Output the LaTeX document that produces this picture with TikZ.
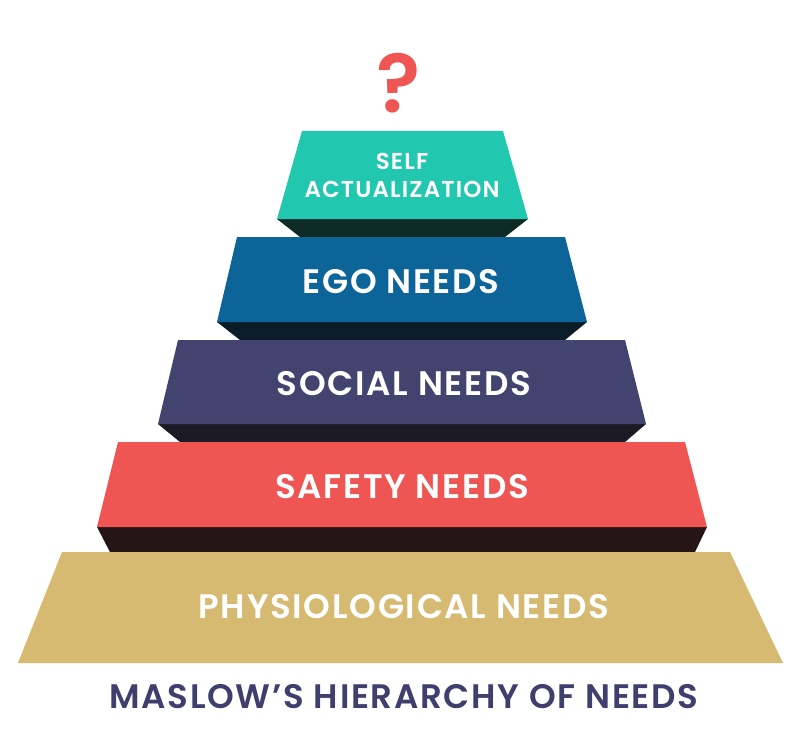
\documentclass[tikz,border=0pt]{standalone}
\usepackage{fontspec}
\setmainfont{Poppins}[BoldFont=* SemiBold,LetterSpace=5]
\definecolor{teal}{HTML}{22C7AF}
\definecolor{egob}{HTML}{0D6499}
\definecolor{socp}{HTML}{42446F}
\definecolor{safr}{HTML}{EF5552}
\definecolor{phyg}{HTML}{D6BA72}
\definecolor{dtea}{HTML}{0E2A25}
\definecolor{dego}{HTML}{0A1C28}
\definecolor{dsoc}{HTML}{1C1A24}
\definecolor{dsaf}{HTML}{251516}
\definecolor{ttl}{HTML}{3F3F6E}
\tikzset{lbl/.style={text=white,align=center,inner sep=0pt}}
\begin{document}
\begin{tikzpicture}[x=1pt,y=-1pt]
\useasboundingbox (0,0) rectangle (800,733);
% dark bands
\fill[dtea] (277,219) -- (528,219) -- (505,237) -- (300,237) -- cycle;
\fill[dego] (217,322) -- (587,322) -- (565,340) -- (240,340) -- cycle;
\fill[dsoc] (158,424) -- (646,424) -- (625,442) -- (180,442) -- cycle;
\fill[dsaf] (97,527) -- (707,527) -- (695,552) -- (110,552) -- cycle;
% layers
\fill[teal] (302,131) -- (503,131) -- (528,219) -- (277,219) -- cycle;
\fill[egob] (237,237) -- (565,237) -- (587,322) -- (217,322) -- cycle;
\fill[socp] (178,340) -- (625,340) -- (646,424) -- (158,424) -- cycle;
\fill[safr] (118,442) -- (685,442) -- (707,527) -- (97,527) -- cycle;
\fill[phyg] (62,552) -- (730,552) -- (783,663) -- (18,663) -- cycle;
\node[lbl,font=\bfseries\fontsize{23}{28}\selectfont] (sa) at (402,175) {SELF\\ACTUALIZATION};
\node[lbl,font=\bfseries\fontsize{34}{34}\selectfont] (ego) at (401,282) {EGO NEEDS};
\node[lbl,font=\bfseries\fontsize{34}{34}\selectfont] (soc) at (404,384) {SOCIAL NEEDS};
\node[lbl,font=\bfseries\fontsize{34}{34}\selectfont] (saf) at (402,487) {SAFETY NEEDS};
\node[lbl,font=\bfseries\fontsize{34}{34}\selectfont] (phy) at (404,607) {PHYSIOLOGICAL NEEDS};
\node[text=ttl,inner sep=0pt,font=\bfseries\fontsize{34}{34}\selectfont] (t) at (404,697) {MASLOW’S HIERARCHY OF NEEDS};
\node[text=safr,inner sep=0pt,font=\bfseries\fontsize{82}{82}\selectfont] (q) at (399,83) {?};
\end{tikzpicture}
\end{document}
